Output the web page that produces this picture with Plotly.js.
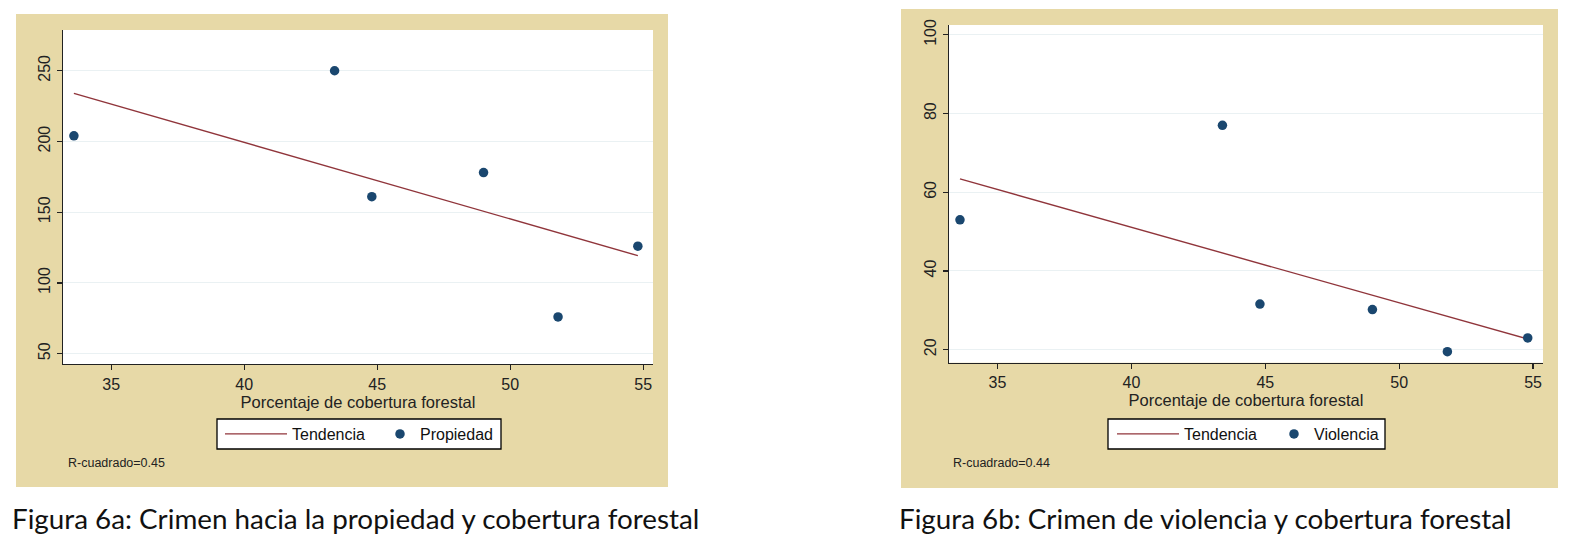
<!DOCTYPE html>
<html>
<head>
<meta charset="utf-8">
<script src="https://cdn.plot.ly/plotly-3.0.1.min.js"></script>
<style>
  html, body { margin:0; padding:0; background:#fff; }
  #chart { width:1574px; height:548px; }
</style>
</head>
<body>
<div id="chart"></div>
<script>
// Figuras 6a / 6b - crimen y cobertura forestal

// porcentaje de cobertura forestal (mismo para ambas figuras)
const cobertura = [33.6, 43.4, 44.8, 49.0, 51.8, 54.8];

// figura 6a - propiedad
const propiedad = [204, 250, 161, 178, 76, 126];
const tendPropX = [33.6, 54.8];
const tendPropY = [234, 119.3];

// figura 6b - violencia
const violencia = [53, 77, 31.6, 30.2, 19.5, 23];
const tendViolX = [33.6, 54.8];
const tendViolY = [63.4, 22.7];

const ticksA = [50, 100, 150, 200, 250];
const ticksB = [20, 40, 60, 80, 100];
const ticksX = [35, 40, 45, 50, 55];

const W = 1574, H = 548;
const px = v => v / W;
const py = v => 1 - v / H;

const BEIGE = '#e7d9a7';
const NAVY = '#1a476f';
const MAROON = '#90353b';
const GRID = '#eaf1f3';
const AXC = '#222';
const FONT = 'Liberation Sans, Arial, sans-serif';

function xAxis(domain, anchor){
  return {
    domain, anchor, range:[33.19, 55.37],
    tickvals: ticksX, ticks:'outside', ticklen:5, tickwidth:1.2, tickcolor:AXC,
    showline:true, linecolor:AXC, linewidth:1.4, showgrid:false, zeroline:false,
    tickfont:{family:FONT, size:16, color:'#222'},
    title:{text:'Porcentaje de cobertura forestal', font:{family:FONT, size:16.5, color:'#222'}, standoff:4}
  };
}

function yAxis(domain, anchor, range, vals){
  return {
    domain, anchor, range,
    tickvals: vals, ticks:'outside', ticklen:5, tickwidth:1.2, tickcolor:AXC, tickangle:-90,
    showline:true, linecolor:AXC, linewidth:1.4, showgrid:true, gridcolor:GRID, gridwidth:1, zeroline:false,
    tickfont:{family:FONT, size:16, color:'#222'}
  };
}

// each legend entry sits in its own legend so the line sample can be longer
// than the marker sample; the boxes round them are shapes
const traces = [
  {x:tendPropX, y:tendPropY, type:'scatter', mode:'lines', name:'Tendencia',
   line:{color:MAROON, width:1.4}, xaxis:'x', yaxis:'y', legend:'legend'},
  {x:cobertura, y:propiedad, type:'scatter', mode:'markers', name:'Propiedad',
   marker:{color:NAVY, size:9.5}, xaxis:'x', yaxis:'y', legend:'legend2'},
  {x:tendViolX, y:tendViolY, type:'scatter', mode:'lines', name:'Tendencia',
   line:{color:MAROON, width:1.4}, xaxis:'x2', yaxis:'y2', legend:'legend3'},
  {x:cobertura, y:violencia, type:'scatter', mode:'markers', name:'Violencia',
   marker:{color:NAVY, size:9.5}, xaxis:'x2', yaxis:'y2', legend:'legend4'}
];

function legendAt(x, y, iw){
  return {
    x, y, xanchor:'left', yanchor:'middle', orientation:'h',
    bgcolor:'rgba(0,0,0,0)', borderwidth:0,
    font:{family:FONT, size:16, color:'#111'}, itemwidth:iw
  };
}

const layout = {
  width:W, height:H,
  margin:{l:0, r:0, t:0, b:0},
  paper_bgcolor:'#fff', plot_bgcolor:'#fff',
  showlegend:true,
  xaxis: xAxis([px(63), px(653)], 'y'),
  yaxis: yAxis([py(364), py(30)], 'x', [42.7, 278.8], ticksA),
  xaxis2: xAxis([px(949), px(1543)], 'y2'),
  yaxis2: yAxis([py(362.7), py(25)], 'x2', [16.7, 102.5], ticksB),
  legend: legendAt(px(220), py(434), 62),
  legend2: legendAt(px(380), py(434), 30),
  legend3: legendAt(px(1112), py(434), 62),
  legend4: legendAt(px(1274), py(434), 30),
  shapes: [
    {type:'rect', xref:'paper', yref:'paper', x0:px(16), x1:px(668), y0:py(487), y1:py(14),
     fillcolor:BEIGE, line:{width:0}, layer:'below'},
    {type:'rect', xref:'paper', yref:'paper', x0:px(901), x1:px(1558), y0:py(488), y1:py(9),
     fillcolor:BEIGE, line:{width:0}, layer:'below'},
    {type:'rect', xref:'x domain', yref:'y domain', x0:0, x1:1, y0:0, y1:1,
     fillcolor:'#fff', line:{width:0}, layer:'below'},
    {type:'rect', xref:'x2 domain', yref:'y2 domain', x0:0, x1:1, y0:0, y1:1,
     fillcolor:'#fff', line:{width:0}, layer:'below'},
    {type:'rect', xref:'paper', yref:'paper', x0:px(217), x1:px(501), y0:py(449), y1:py(419),
     fillcolor:'#fff', line:{color:'#000', width:1.3}, layer:'below'},
    {type:'rect', xref:'paper', yref:'paper', x0:px(1108), x1:px(1385), y0:py(449), y1:py(419),
     fillcolor:'#fff', line:{color:'#000', width:1.3}, layer:'below'}
  ],
  annotations: [
    {text:'R-cuadrado=0.45', xref:'paper', yref:'paper', x:px(66), y:py(463), xanchor:'left', yanchor:'middle',
     showarrow:false, font:{family:FONT, size:12.5, color:'#222'}},
    {text:'R-cuadrado=0.44', xref:'paper', yref:'paper', x:px(951), y:py(463), xanchor:'left', yanchor:'middle',
     showarrow:false, font:{family:FONT, size:12.5, color:'#222'}},
    {text:'Figura 6a: Crimen hacia la propiedad y cobertura forestal', xref:'paper', yref:'paper',
     x:px(10), y:py(518), xanchor:'left', yanchor:'middle', showarrow:false,
     font:{family:'Lato, Open Sans, sans-serif', size:27.8, color:'#111'}},
    {text:'Figura 6b: Crimen de violencia y cobertura forestal', xref:'paper', yref:'paper',
     x:px(897), y:py(518), xanchor:'left', yanchor:'middle', showarrow:false,
     font:{family:'Lato, Open Sans, sans-serif', size:27.8, color:'#111'}}
  ]
};

Plotly.newPlot('chart', traces, layout, {displayModeBar:false, staticPlot:true});
</script>
</body>
</html>
